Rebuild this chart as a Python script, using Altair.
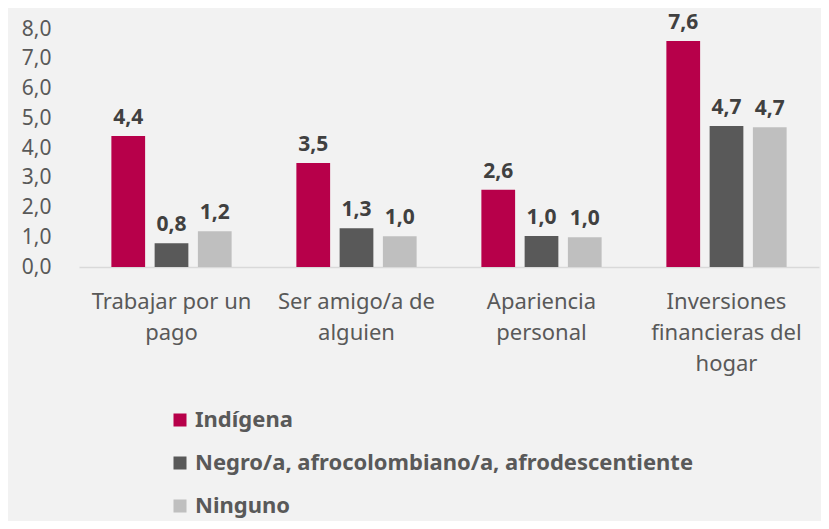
import altair as alt
import pandas as pd

categories = ["Trabajar por un pago", "Ser amigo/a de alguien", "Apariencia personal",
              "Inversiones financieras del hogar"]
label_lines = {
    "Trabajar por un pago": ["Trabajar por un", "pago"],
    "Ser amigo/a de alguien": ["Ser amigo/a de", "alguien"],
    "Apariencia personal": ["Apariencia", "personal"],
    "Inversiones financieras del hogar": ["Inversiones", "financieras del", "hogar"],
}
series = ["Indígena", "Negro/a, afrocolombiano/a, afrodescentiente", "Ninguno"]
indigena = [4.4, 3.5, 2.6, 7.6]
negro = [0.8, 1.3, 1.04, 4.74]
ninguno = [1.2, 1.03, 1.0, 4.7]
colors = ["#B7004A", "#595959", "#BFBFBF"]
y_ticks = [0, 1, 2, 3, 4, 5, 6, 7, 8]

rows = []
for s, vals in zip(series, [indigena, negro, ninguno]):
    for c, v in zip(categories, vals):
        rows.append({"cat": c, "serie": s, "valor": v})
df = pd.DataFrame(rows)

expr_parts = []
for c, lines in label_lines.items():
    arr = "[" + ",".join("'" + l + "'" for l in lines) + "]"
    expr_parts.append(f"datum.label == '{c}' ? {arr} : ")
label_expr = "".join(expr_parts) + "datum.label"

FONT = "Noto Sans"

x = alt.X("cat:N", sort=categories, title=None,
          scale=alt.Scale(paddingInner=0.35, paddingOuter=0.175),
          axis=alt.Axis(labelAngle=0, labelExpr=label_expr, ticks=False,
                        domainColor="#D9D9D9", domainWidth=1.5, labelPadding=24,
                        labelFontSize=22, labelColor="#595959", labelFont=FONT,
                        labelLineHeight=31, labelBaseline="top", labelLimit=300))
xoff = alt.XOffset("serie:N", sort=series, scale=alt.Scale(paddingInner=0.22))
y = alt.Y("valor:Q", title=None,
          scale=alt.Scale(domain=[0, 8], nice=False),
          axis=alt.Axis(values=y_ticks, tickCount=9, grid=False, domain=False,
                        ticks=False, labelPadding=28, labelFontSize=21,
                        labelOverlap=False, labelFlush=False,
                        labelColor="#595959", labelFont=FONT,
                        labelExpr="replace(format(datum.value, '.1f'), '.', ',')"))

bars = alt.Chart(df).mark_bar().encode(
    x=x, xOffset=xoff, y=y,
    color=alt.Color("serie:N", sort=series, title=None,
                    scale=alt.Scale(domain=series, range=colors),
                    legend=alt.Legend(orient="none", legendX=90, legendY=380,
                                      direction="vertical", symbolType="square",
                                      symbolSize=169, symbolStrokeWidth=0,
                                      labelFontSize=22, labelFontWeight="bold",
                                      labelColor="#595959", labelFont=FONT,
                                      rowPadding=21, labelOffset=4, labelLimit=700)),
)

texts = alt.Chart(df).transform_calculate(
    lbl="replace(format(datum.valor, '.1f'), '.', ',')"
).mark_text(dy=-8, baseline="bottom", fontSize=21, fontWeight="bold",
            color="#404040", font=FONT).encode(
    x=x, xOffset=xoff, y=y, text="lbl:N")

chart = alt.layer(bars, texts).properties(
    width=740, height=238,
    background="#F2F2F2",
    autosize=alt.AutoSizeParams(type="none"),
    padding={"left": 71, "top": 21, "right": 2, "bottom": 254},
).configure_view(stroke=None)

chart.save("out.html", embed_options={"renderer": "svg", "actions": False})
